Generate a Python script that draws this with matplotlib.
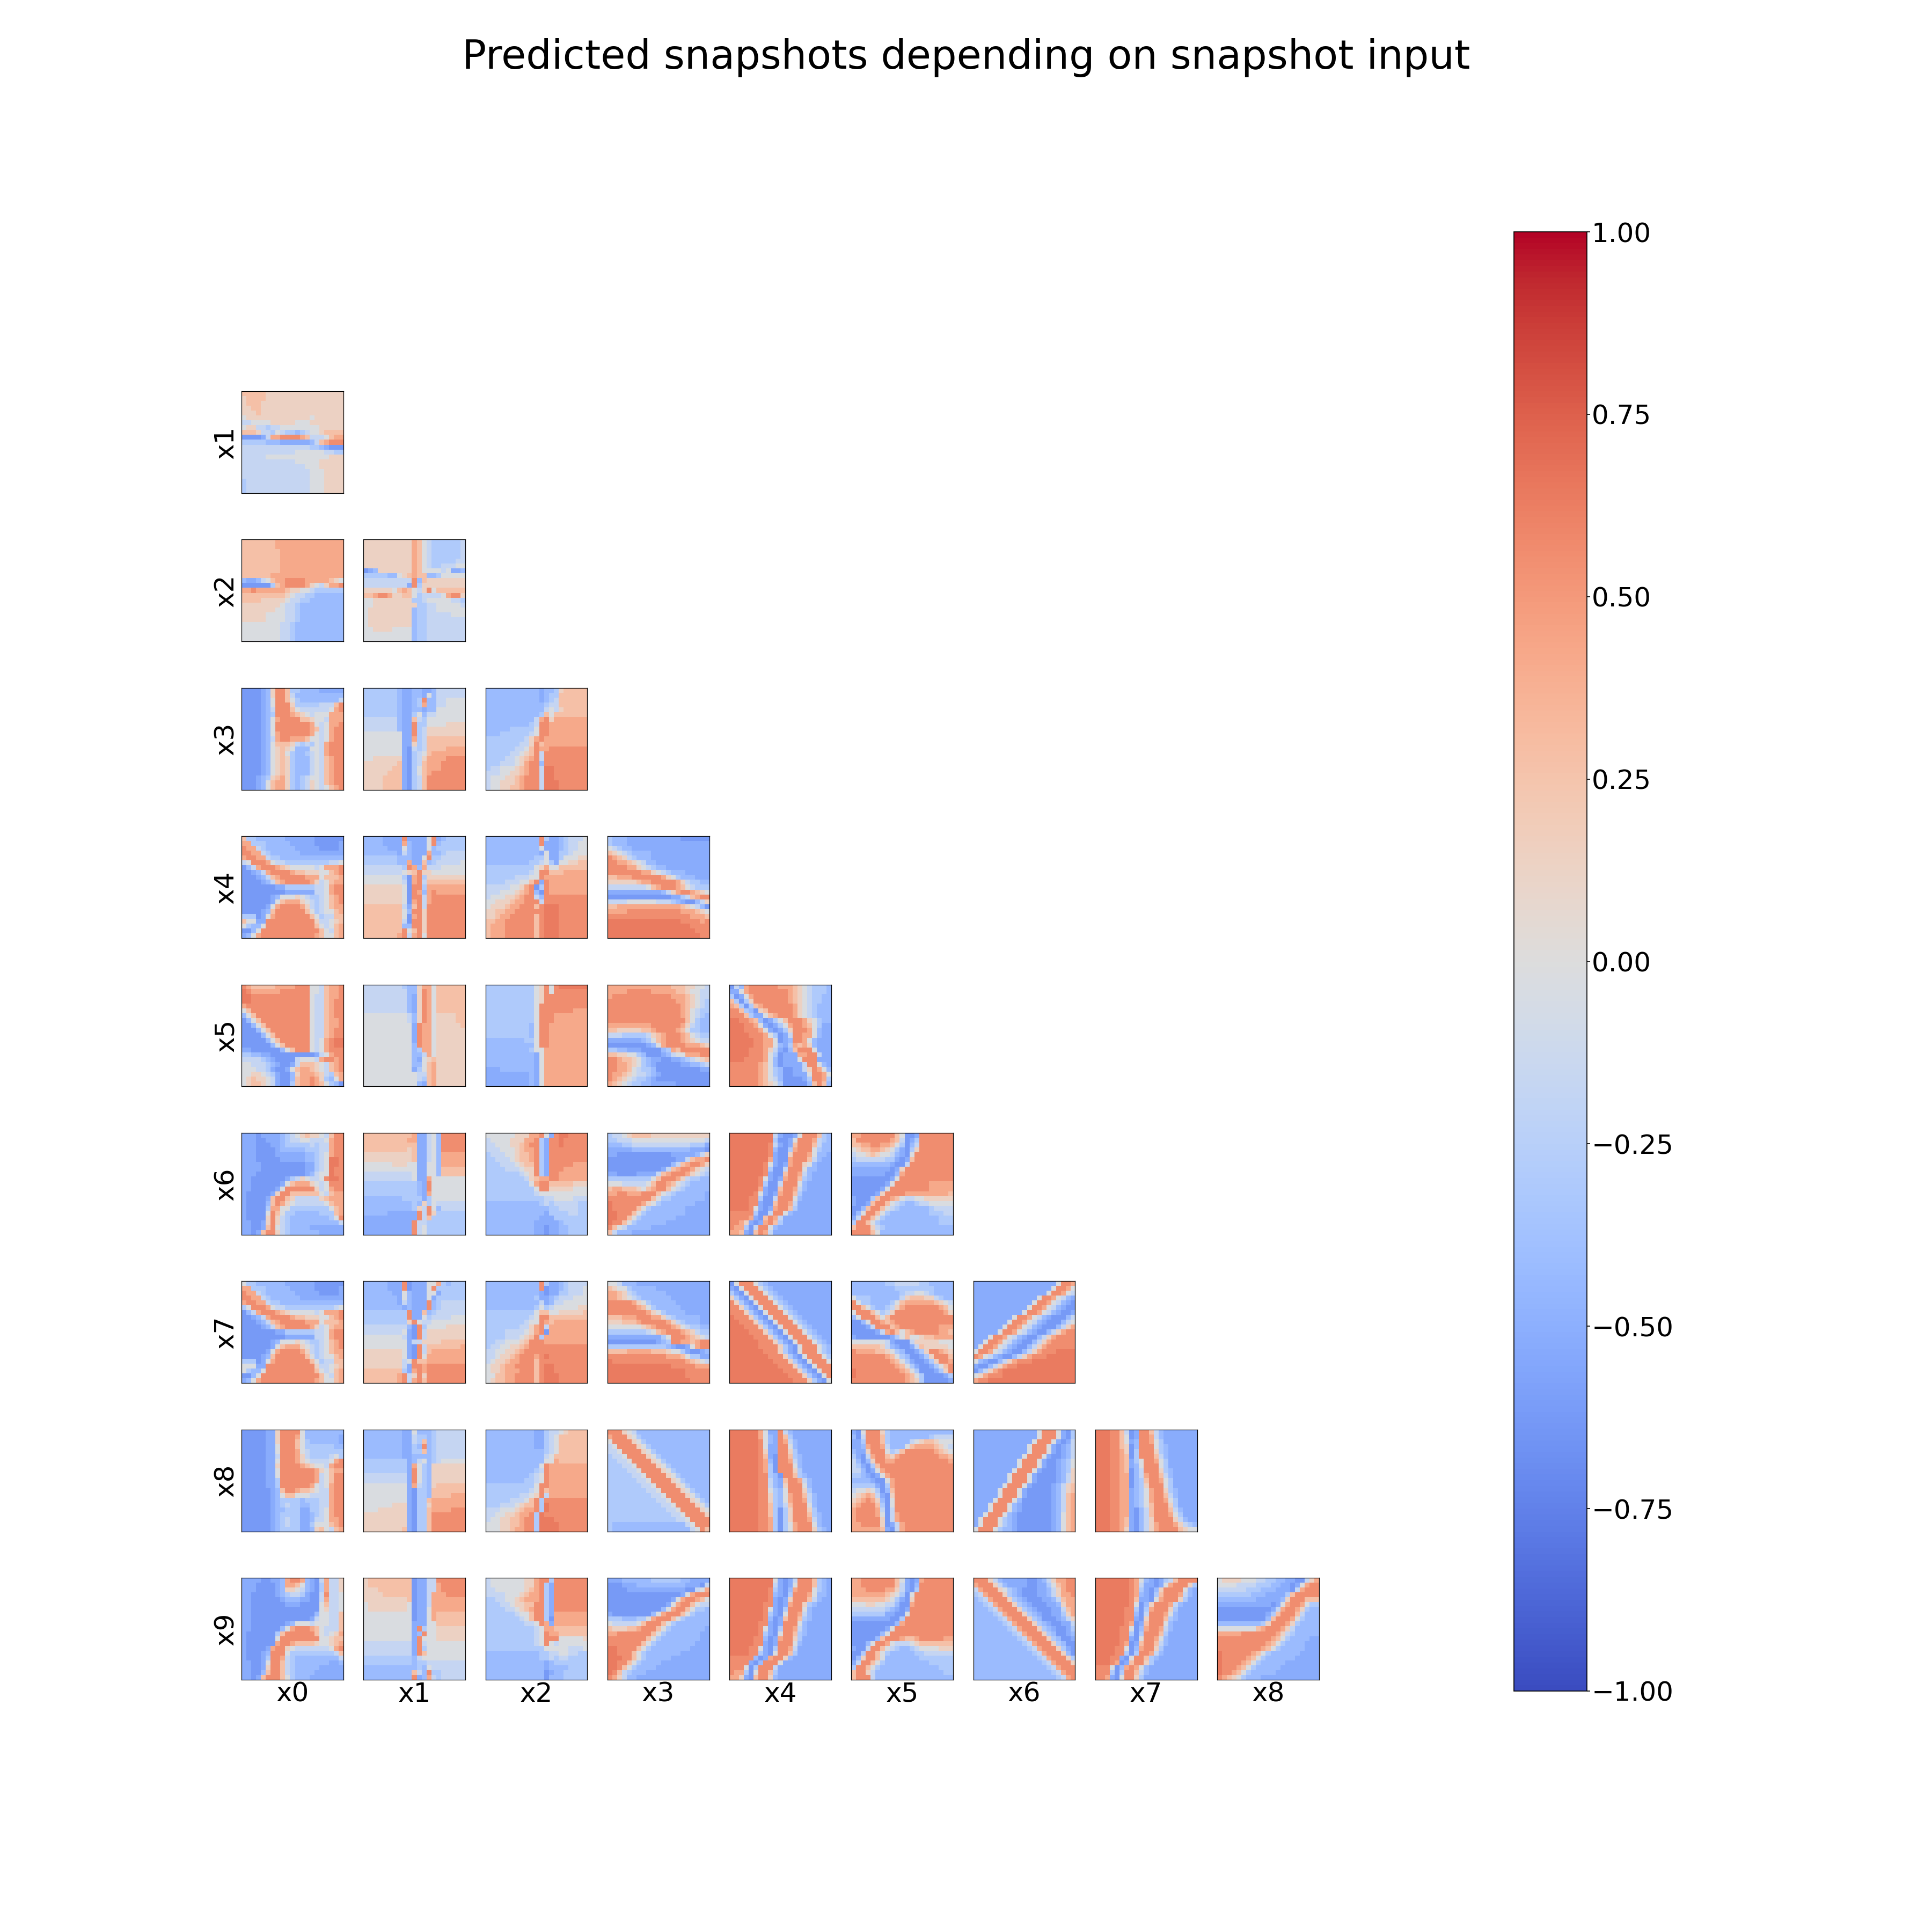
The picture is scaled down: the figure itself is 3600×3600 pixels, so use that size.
import numpy as np
import matplotlib
matplotlib.use('Agg')
import matplotlib.pyplot as plt
from matplotlib.cm import ScalarMappable
from matplotlib.colors import Normalize

# one character per cell, see LEVELS
LEVELS = {'0': -0.62, '1': -0.52, '2': -0.42, '3': -0.30, '4': -0.17, '5': -0.03,
          '6': 0.14, '7': 0.28, '8': 0.42, '9': 0.56, 'a': 0.64}
NAMES = ['x0', 'x1', 'x2', 'x3', 'x4', 'x5', 'x6', 'x7', 'x8', 'x9']
CBAR_TICKS = [-1.0, -0.75, -0.5, -0.25, 0.0, 0.25, 0.5, 0.75, 1.0]

P_1_0 = ["777776666666666666666", "677776666666666666666", "677766666666666666666", "667766666666666666666",
         "666766666666666666666", "566666666666665666666", "445555666665556666666", "566443445555555566666",
         "777644354332345567777", "000014889999874445788", "333332221111112478999", "444444444444443321000",
         "444444444445555554433", "444445555555555555666", "444444444445555566666", "444444444444455566666",
         "444444444444445556666", "444444444444445556666", "344444444444445556666", "344444444444445556666",
         "344444444444445556666"]
P_2_0 = ["777777788888888888888", "777777788888888888888", "777777778888888888888", "777777778888888888888",
         "777777778888888888888", "777777778888888888888", "777777778888888888888", "777777888888888888888",
         "211245788999988888765", "000000378999986546889", "889888888766554333333", "777777777654433222222",
         "777766666544332222222", "666666665443222222222", "666666655443222222222", "666665555443222222222",
         "666665555443222222222", "555555554432222222222", "555555554432222222222", "555555554432222222222",
         "555555554432222222222"]
P_2_1 = ["666666666687543333334", "666666666687543333334", "666666666687543333334", "666666666687543333334",
         "666666666687543333344", "666666666687543344455", "012666666687555545112", "333332256787722355555",
         "444444444492766666666", "444444444193666666666", "666666578754695777777", "778998667753444458996",
         "556666666633455555443", "556666666663344555554", "566666666623344555555", "566666666623344444555",
         "566666666623344444444", "566666666623344444444", "556666555523344444444", "555555555523344444444",
         "555555555523344444444"]
P_3_0 = ["000012699733222211111", "000012699742222222222", "000012599753222222224", "000012599963333344479",
         "000012499975444444589", "000012399987654555888", "000012589999776554888", "000012599999998545889",
         "000012599999998745899", "000012589999998545899", "000012489988875545899", "000012577764343548999",
         "000012567652225548999", "000012567532234548999", "000012567632224547899", "000012567632224547899",
         "000012567632224547899", "000012567632224547899", "000123678632345547899", "000125788632346547899",
         "000125788632346545789"]
P_3_1 = ["333333321122112444444", "333333321122152444444", "333333321123922445555", "333333321123822445555",
         "333333321122122555555", "333333321135244555555", "444444421174355555555", "444444421193355556666",
         "444444421193466666666", "555555551193466666666", "555555551183477777777", "555555551163477777777",
         "555555551043477778888", "555555551034578888888", "556666661034688889999", "666666671034788899999",
         "666666771035788899999", "666667771035789999999", "666677771034799999999", "666677771034799999999",
         "666677771034799999999"]
P_3_2 = ["222222222221223677777", "222222222221233777777", "222222222221234777777", "222222222222344777777",
         "222222222222454677777", "222222222223757777777", "222222222248968888888", "222222222349988888888",
         "222223333359988888888", "222333333459988888888", "333333334689888888888", "333333344697888888888",
         "333333445798899999999", "333334456794999999999", "333344567894999999999", "333444568992999999999",
         "344555678994aa9999999", "444556678994aa9999999", "455566789994aa9999999", "455666789994aaa999999",
         "455667789994aaa999999"]
P_4_0 = ["733222222111111000000", "883332222211111000001", "988432222221111100001", "998843222222111111111",
         "899884332222222222222", "459998544333333333445", "024899987655555458889", "001248999987766655789",
         "000124789999988857778", "000012478999998645788", "000000011333333445899", "000000000111111445899",
         "000000125556543345789", "000000157888654345789", "000001589999864345788", "000012799999975345578",
         "333015899999997534477", "755119999999999644567", "532259999999999754578", "002599999999999975478",
         "125899999999999875578"]
P_4_1 = ["222211119111159123333", "222211118211159233333", "222221115211152333333", "222222214211182234444",
         "333333322211593344444", "333333322811723444445", "444444443982844455555", "444444445679665555555",
         "555555553089366666666", "555555554089477777777", "666666665099388888888", "666666665098289888888",
         "666666665099489999999", "666666665089489999999", "777777774179499999999", "777777775299699999999",
         "777777775089699999999", "777777774099699999999", "777777772299699999999", "777777779579699999999",
         "777777789489599999999"]
P_4_2 = ["222222222229311234445", "222222222229111234455", "222222222225111234455", "222222222221511334555",
         "222222222233511355566", "222222222334531556677", "333333333356855777777", "333333333459977788888",
         "333333444559888888888", "333344455791988888888", "444445568903988888888", "444555678920988888888",
         "455566789942999999999", "556667889994999999999", "566678899979aaa999999", "667788999999aaa999999",
         "667889999979aaa999999", "778899999979aaa999999", "788899999979aaa999999", "788899999979aaa999999",
         "788899999979aaa999999"]
P_4_3 = ["322211111111111000000", "322211111111111111111", "543221111111111111111", "765432222111111111111",
         "987643222111111111111", "998876542211111111111", "999988654322111111111", "999999988654322211111",
         "778889999998653222111", "666666788999998643322", "444444445789998754333", "111111111112468998765",
         "000000000000011347899", "444455555544432100246", "778888888888888765420", "888899999999999888765",
         "999999999999999998887", "aaaaaaaaaaaaaaa999989", "aaaaaaaaaaaaaaaaa9999", "aaaaaaaaaaaaaaaaaa999",
         "aaaaaaaaaaaaaaaaaaa99"]
P_5_0 = ["987777788889995547889", "a98888889999995547889", "aa9999999999995447889", "aa9999999999995447899",
         "899999999999995447899", "579999999999995447899", "257999999999995447899", "025799999999995447889",
         "002579999999995447889", "000257999999995447899", "000025799999995447899", "000002579999995458 9a",
         "000000257999995458 9a", "110000002579995458999", "332211000000000145899", "444432100004555489989",
         "554443210014777654789", "555443100157887654789", "556654310026888764378", "567665410027889863258",
         "567765410037889875320"]
P_5_1 = ["444444443226885777777", "444444444226985777777", "444444444216985777777", "444444444216985777777",
         "444444444216985777777", "444444444216985777777", "555555555426985666677", "555555555426985666677",
         "555555555519885666667", "555555555519885666666", "555555555519885666666", "555555555519885666666",
         "555555555529885666666", "555555555523885666666", "555555555522485666666", "555555555521567666666",
         "555555555522578666666", "555555555513578666666", "555555555554478666666", "555555555554378666666",
         "555555555552178666666"]
P_5_2 = ["333333333356959aaaaaa", "333333333356959999999", "333333333356999999999", "333333333356999999999",
         "333333333359999999999", "333333333359999999888", "333333333359998888888", "333333333359998888888",
         "333333333259988888888", "333333333259988888888", "333333333259988888888", "222222223359988888888",
         "222222222259988888888", "222222222355888888888", "222222222215888888888", "222222222215888888888",
         "222222222215888888888", "111222222215888888888", "111111111215888888888", "111111111215888888888",
         "111111111215888888888"]
P_5_3 = ["888888888888877766554", "888899999888887765544", "899999999999988876544", "999999999999998876543",
         "999999999999999876543", "999999999999999875433", "999999999999999875432", "999999999999999975322",
         "888888888999999864322", "776666677899998753322", "444333334678999875433", "111111123578999876544",
         "000000001258999988876", "332211100002387999999", "776655320001245588899", "998776532110011234567",
         "998876532100000112234", "998875433200000000011", "988765443210000000000", "987654332100000000000",
         "876543322111110000000"]
P_5_4 = ["042899999988876543332", "115899999999876543332", "301589999999876543322", "730369999999876543322",
         "873037899999986543222", "997320679999986543222", "999731157899986543222", "aa9987201357999865322",
         "aaa998510135899875311", "aaa999851013699985211", "aaaa99985301499885211", "aaaaa99885012998 5211",
         "aaaaa99885213878 6211", "aaaa99986410279995111", "aaaa99985301118899411", "aaa999985201115999111",
         "9999998752011114995 21", "999999875320011469 8521", "99999987532001115998 521", "99999987542000013998 31",
         "9999998765300000 2797 21"]
P_6_0 = ["111011112345676654799", "111001112344554445899", "111000112333334344899", "111000012222233344899",
         "111000011111122345899", "111000001111122345aa9", "111100000000011345aa9", "111100000000011345a99",
         "111000000000012455a99", "110000000134654459aa9", "110000001578886545999", "110000015999999645899",
         "100000169977777754788", "100001799764444467888", "100002798654444445788", "100003885533333333578",
         "100005975332222233378", "100006964322222222359", "110016964322222222224", "110017954322221111111",
         "110179964322222211111"]
P_6_1 = ["777777777781145299999", "777777777881145299999", "777777777771145299999", "777777777671145299999",
         "666666666671145288888", "666666666671145288888", "555555666551155288888", "555555555551155277777",
         "444444444451155277777", "444444444451185555555", "333333333332195555555", "333333333332195555555",
         "333333333332185555555", "222222223333135555555", "222222222232 63 5 4 4 4 4", "222222222236495244444",
         "222221111119 4 96 3 3 3 3 3", "111111111119 4 73 3 3 3 3 3", "11111111119 4 4 3 3 3 3 3 3 3 3",
         "11111111119 4 5 3 3 3 3 3 3 3 3", "11111111119 4 5 3 3 3 3 3 3 3 3"]
P_6_2 = ["555555666889 5 1 9 a a 9 9 9 9 9", "455556668893199a99999", "445556678993199a99999", "444555678893199999999",
         "344455677893199999999", "334445677893199999999", "333444567793199999888", "333344456693199988888",
         "333333345693199888888", "333333334678899888888", "333333333589977777666", "333333333359966666555",
         "333333333345555555555", "333333333333445555444", "222222222223434444433", "222222222222233444433",
         "222222222222133334433", "222222222221113333333", "222222222211111233333", "222222222211011223333",
         "222222222211011223333"]
P_6_3 = ["344567777666666666666", "334445555555555555554", "222334444444444443331", "111112222222222221110",
         "110000000000011111246", "000000000000001147889", "000000000000024789986", "000000000001478998654",
         "110000111147899986543", "333333333579998643322", "555444445799875432222", "788777657899754322222",
         "88998889997543 2222221", "99999999975332222222 1", "a99999986532222222111", "a9999975322222221111 1",
         "aa9997532222222211111", "aa9975322222221111111", "a99753222222111111111", "975422222111111111111",
         "742221111111111111111"]
P_6_4 = ["aaaaaaaaa410015999732", "aaaaaaaaa300159998432", "aaaaaaaa9410179997422", "aaaaaaaa9200389995322",
         "aaaaaaaa9100699985221", "aaaaaaaa8100899974211", "aaaaaaa9510189965211", "aaaaaaa9300499952211",
         "aaaaaaa9100799842111", "aaaaaa9510189973211 1", "aaaaaa9300499952111 1", "aaaaaa8100799842111 1",
         "aaaaa9510189973111111", "aaaa99300499952111111", "aaaa99100799841111111", "aaaa95101899 7 3 1 1 1 1 1 1",
         "9999930 0 4 9 9 5 2 1 1 1 1 1 1 1", "9999 8 1 0 7 9 8 4 1 1 1 1 1 1 1 1", "9 9 8 6 1 0 1 8 9 7 3 1 1 1 1 1 1 1 1 1",
         "9 8 8 3 0 4 9 9 5 2 1 1 1 1 1 1 1 1 1 1 1", "8 8 7 1 0 7 9 8 4 1 1 1 1 1 1 1 1 1 1 1 1"]
P_6_5 = ["889999999750019999999", "799999998740139999999", "778899887530249999999", "567788765310369999999",
         "455676554210599999999", "344444433101799999999", "222222221004999999999", "111111110 1 6 9 9 9 9 9 9 9 9",
         "111111100 2 8 9 9 9 9 9 9 9 9 9", "000000001599999999999", "000000015999999988888", "000000159999999988888",
         "000001699998888888887", "100037998754455666666", "100179975432234455555", "002799754322222234444",
         "025997532222222233344", "149975322222222222333", "399753222222222222333", "799964322222222222222",
         "999975222222222222222"]
P_7_0 = ["533222222111111000000", "883332222211111000001", "988432222221111100001", "998843222222111111111",
         "899884332222222222222", "359998544333333333345", "024899987655555458889", "001248999987766655789",
         "000124789999988857778", "000012478999998645788", "000000011333333445899", "000000000111111445899",
         "000000125556543345789", "000000157888654345789", "000001589999864345788", "000012799999975345578",
         "333015899999997534477", "555119999999999644567", "532259999999999754578", "002599999999999975478",
         "125899999999999875578"]
P_7_1 = ["222221119011155832333", "222221119011159333333", "222222115211155133333", "222222215211151333333",
         "222222214211192344444", "222222221211192344444", "333333333911723444444", "333333333911 5 3 4 4 4 4 5 5",
         "333333333695445555555", "444444444209355556666", "444444445109466666666", "555555554109466666666",
         "555555555144666677777", "555555555109477777778", "666666665109478888888", "666666665109588888888",
         "666666664597788888888", "666666664199899999999", "777777773189899999999", "777777789469699999999",
         "777777789489799999999"]
P_7_2 = ["222222222229311234444", "222222222229011234445", "222222222221011334445", "222222222231123444555",
         "222222222224124455555", "222222222235345555566", "333333333357755666667", "333333333459977777777",
         "333333334559878888888", "333333344689488888888", "333344445689088888888", "333344456793888888888",
         "334455567999888888888", "344556678999999999999", "445566789999999999999", "445667899989a99999999",
         "456678899979999999999", "566788999979aa9999999", "566788899979aa9999999", "557788999979aaa999999",
         "567788999979aaa999999"]
P_7_3 = ["554222111111111111111", "765532222211111111111", "887643222222111111111", "887654322222211111111",
         "999998653222221111111", "999999875322222111111", "999999998653222211111", "777888999886432222211",
         "666777899999864322211", "555555567899987543322", "333333334578999876433", "111111111113599987654",
         "000000000012399887899", "333333333333210 01589", "777788888777655310012", "999999999999888753 31",
         "a9999999999999998765 4", "aaaaaaaaaaaaa99999888", "aaaaaaaaaaaaaaaa99999", "aaaaaaaaaaaaaaaa99999",
         "aaaaaaaaaaaaaaaaa9999"]
P_7_4 = ["059995321111111111111", "105999532111111111111", "310599953211111111111", "631059995321111111111",
         "963105999532111111111", "996310599953211111111", "999631059995321111111", "a99963105999532111111",
         "aa9996310599953211111", "aaa999631059995321111", "aaaa99963105999532111", "aaaaa9996310599953211",
         "aaaaaa999631059995321", "aaaaaa999963105999532", "aaaaaaa9996310599953 2", "aaaaaaaa999631059995 3",
         "aaaaaaaaa999631059995", "aaaaaaaaaa99963105999", "aaaaaaaaaaa999631059 9", "aaaaaaaaaaaa9996310599",
         "aaaaaaaaaaaaa99963105"]
P_7_5 = ["222222233444443322222", "222222222333333332222", "222222222234455432222", "533322222246777664322",
         "953322223578888887654", "997532234689999999875", "599975346999999999986", "2599975799999999999 9",
         "0025 9 9 8 7 8 9 9 9 9 9 9 9 9 9 9", "0001 4 9 9 9 7 8 9 9 9 9 9 9 9 9 8 8", "00000 1 4 8 9 7 5 7 8 9 9 9 9 9 8 8 7 7",
         "100000001357 5 5 6 7 7 8 8 8 8 7", "555555541000 4 6 6 6 6 6 5 5 5 5 5", "777777642100147666665 5 4",
         "988887765320013699876", "999999987532001369997", "999999998753100 1 3 6 9 9 8", "9999999998 7 5 3 1 0 0 1 3 5 7 9",
         "a9999999998 7 5 3 0 0 0 1 3 6 9", "a9999999999 8 7 5 3 0 0 0 0 1 3", "9 9 9 9 9 9 9 9 9 9 9 8 7 6 3 0 0 0 0 0 1"]
P_7_6 = ["111111111111111115998", "111111111111111159985", "111111111111111599854", "111111111111159985421",
         "111111111111599854210", "111111111115998542100", "111111111159985421001", "111111115998542100024",
         "111111159985421000245", "111111599854210002468", "111115998542100246899", "111599854210024689999",
         "115998542100246899999", "159985421002468999999", "59985421002468999aaaa", "985421002468999aaaaaa",
         "521002468999aaaaaaaaa", "100246899aaaaaaaaaaaa", "024689aaaaaaaaaaaaaaa", "568999aaaaaaaaaaaaaaa",
         "899aaaaaaaaaaaaaaaaaa"]
P_8_0 = ["000001169999522222222", "000001169998522222221", "000001169997532222221", "000001159997533333322",
         "000001159998543333333", "000001149998643333453", "000001159998654444589", "000001169999876554899",
         "000001159999999865788", "000001159999999845799", "000001139999999845799", "000001139999998545899",
         "000000127998776544899", "000000125775554444899", "000000123333233344899", "000000123433223344899",
         "000000122333113345899", "000000123333112345899", "000000123433112445889", "000000123433113555789",
         "000000123333112675478"]
P_8_1 = ["222222221152223444444", "222222221143323444444", "222222221143723444444", "222222221132923444444",
         "222222221133723444444", "222222221122223444444", "333333333124523455555", "333333333185326666666",
         "333333333195326666666", "444444444195326666666", "444444444195326666666", "555555555184326777777",
         "555555555103327777777", "555555555103327777888", "555555555103378888888", "555555666103368888888",
         "555666666103378888999", "666666666103379999999", "666666666103379999999", "666666666103379999999",
         "666666667103379999999"]
P_8_2 = ["222222222211344567777", "222222222211345777777", "222222222211345777777", "222222222211345777777",
         "222222222222345777777", "222222222222457777777", "222222222222558777777", "222222222225988888888",
         "222222222234988888888", "222222222345988888888", "222222223345988888888", "333333333359988888888",
         "333333333459788888888", "333333344569 4 8 8 8 8 8 8 8", "333334445793 9 9 9 9 9 9 9 9", "333444567793a99999999",
         "444555678893a99999999", "4455667 8 8 9 3 a 9 9 9 9 9 9 9 9", "455667789 9 3 a a a 9 9 9 9 9 9 9", "555667789 9 3 a a a a 9 9 9 9",
         "555667889 9 3 a a a a 9 9 9 9"]
P_8_3 = ["999654222222222222222", "899965322222222222222", "599996532222222222222", "459999653222222222222",
         "445999965322222222222", "344599996532222222222", "334459999653222222222", "333445999965322222222",
         "333344599996532222222", "333334459999653222222", "333333445999965322222", "333333344599996532222",
         "333333334459999653222", "333333333445999965322", "333333333344599996532", "333333333334459999653",
         "333333333333445999965", "333333333333344599996", "333333333333334459999", "322222222222222245999",
         "322222222222222224597"]
P_8_4 = ["aaaaaa85119 4 2 1 1 1 1 1 1 1 1", "aaaaaa85219 7 3 1 1 1 1 1 1 1 1", "aaaaaa95219 8 4 2 1 1 1 1 1 1 1", "aaaaaa95119 9 5 2 1 1 1 1 1 1 1",
         "aaaaaa96119 9 6 3 1 1 1 1 1 1 1", "aaaaaa97109 9 7 3 2 1 1 1 1 1 1", "aaaaaa98209 9 8 4 2 1 1 1 1 1 1", "aaaaaa98309 9 9 5 2 1 1 1 1 1 1",
         "aaaaaa98309 9 9 6 3 1 1 1 1 1 1", "aaaaaa99320 9 9 7 3 2 1 1 1 1 1", "aaaaaa99421 7 9 9 8 4 2 1 1 1 1", "aaaaaa99421 6 9 9 9 5 2 1 1 1 1",
         "aaaaaa99532 5 9 9 9 6 3 1 1 1 1", "aaaaaa99632 5 8 9 9 7 4 2 1 1 1", "aaaaaa99632 5 8 9 9 8 4 2 1 1 1", "aaaaaa99732 4 7 9 9 9 5 2 1 1 1",
         "aaaaaa99730 3 6 9 9 9 6 3 1 1 1", "aaaaaa99730 3 6 9 9 9 7 3 2 1 1", "aaaaaa99830 3 6 9 9 9 8 4 2 1 1", "aaaaaa99830 3 5 8 9 9 9 5 2 1 1",
         "aaaaaa99830 3 5 8 9 9 9 6 3 2 1"]
P_8_5 = ["105999 6 3 2 2 2 2 2 2 2 2 2 2 2 2", "204999 7 3 2 2 2 2 2 2 2 2 3 4 4 4", "1 1 3 9 9 9 7 3 2 2 2 2 4 5 6 7 7 6 5", "1 1 2 8 9 9 8 4 2 2 2 5 7 8 8 8 8 7 6 5 4",
         "2 1 1 6 9 9 9 5 3 4 7 9 9 9 9 9 9 8 7 6 5", "3 1 0 4 8 9 9 7 6 8 9 9 9 9 9 9 9 9 8 8 7", "4 2 0 2 6 9 9 8 8 9 9 9 9 9 9 9 9 9 9 9 8", "4 3 1 0 3 7 9 9 9 9 9 9 9 9 9 9 9 9 9 9 9",
         "4 4 2 0 1 5 8 9 9 9 9 9 9 9 9 9 9 9 9 9 9", "3 3 2 1 0 1 5 8 9 9 9 9 9 9 9 9 9 9 9 9 9", "2 2 2 2 1 0 0 5 8 9 9 9 9 9 9 9 9 9 9 9 9", "3 3 3 3 3 1 0 3 8 9 9 9 9 9 9 9 9 9 9 9 9",
         "4 5 5 6 5 3 0 2 7 9 9 9 9 9 9 9 9 9 9 9 9", "5 6 7 8 7 4 1 0 6 9 9 9 9 9 9 9 9 9 9 9 9", "6 7 8 9 8 6 2 0 5 9 9 9 9 9 9 9 9 9 9 9 9", "7 8 9 9 9 7 3 0 5 9 9 9 9 9 9 9 9 9 9 9 9",
         "8 9 9 9 9 8 4 0 4 9 9 9 9 9 9 9 9 9 9 9 9", "8 9 9 9 9 8 5 0 4 8 9 9 9 9 9 9 9 9 9 9 9", "8 9 9 9 9 9 6 0 4 8 9 9 9 9 9 9 9 9 9 9 9", "8 8 9 9 9 9 6 0 1 4 8 9 9 9 9 9 9 9 9 9 9",
         "8 8 8 8 8 8 7 1 0 4 8 9 9 9 9 9 9 9 9 9 9"]
P_8_6 = ["111111111111159995103", "111111111111159995103", "111111111111599951014", "111111111115999510124",
         "111111111115999510124", "111111111159995100124", "111111111599951001235", "111111111599951001235",
         "111111115999510001236", "111111159995100001246", "111111159995100001246", "111111599951000012467",
         "111115999510000012467", "111115999510000012478", "111159995200000012478", "111599952100000012478",
         "111599952100000012478", "115999521000000012578", "159995321000000012578", "159995321000000012578",
         "599953221000000012578"]
P_8_7 = ["aaa9974019 9 7 4 2 1 1 1 1 1 1 1", "aaa9975019 9 8 4 2 1 1 1 1 1 1 1", "aaa9975129 9 8 5 3 1 1 1 1 1 1 1", "aaa9976029 9 9 5 3 2 1 1 1 1 1 1",
         "aaa9986039 9 9 6 3 2 1 1 1 1 1 1", "aaa9987039 9 9 7 4 2 1 1 1 1 1 1", "aaa9987135 9 9 8 5 3 1 1 1 1 1 1", "aaa9987125 9 9 9 5 3 1 1 1 1 1 1",
         "aaa9987024 9 9 9 6 3 2 1 1 1 1 1", "aaa9988024 8 9 9 7 4 2 1 1 1 1 1", "aaa9988023 7 9 9 8 5 3 1 1 1 1 1", "aaa9988023 6 9 9 9 5 3 1 1 1 1 1",
         "aaa9988123 5 8 9 9 6 3 2 1 1 1 1", "aaa9988123 5 8 9 9 7 4 2 1 1 1 1", "aaa9988123 5 8 9 9 8 5 3 1 1 1 1", "aaa9988123 5 7 9 9 9 6 3 1 1 1 1",
         "aaa9988102 4 7 9 9 9 7 4 2 1 1 1", "aaa9988102 4 7 9 9 9 8 5 3 1 1 1", "aaa9987102 4 6 9 9 9 9 6 4 2 1 1", "aaa9987102 4 6 8 9 9 9 8 6 4 3 2",
         "aaa9986102 4 6 8 9 9 9 9 7 6 5 5"]
P_9_0 = ["111100112899 8 2 1 0 4 8 4 4 6 7 8", "111000012887 5 2 1 0 3 8 4 4 6 8 9", "111000012665 4 2 1 0 3 8 4 4 6 8 9", "110000012344 3 1 0 0 4 9 4 4 5 8 9",
         "110000001222 1 1 0 0 4 8 4 4 5 8 9", "110000000111 0 0 0 0 5 7 4 4 5 8 a", "110000000000 0 0 0 0 5 6 4 4 5 8 a", "110000000000 0 0 0 2 5 5 4 4 7 8 a",
         "110000000000 0 0 1 4 5 5 4 4 7 9 a", "110000000125 5 5 4 5 5 5 4 4 7 9 a", "110000002589 9 9 8 7 5 4 4 4 7 9 a", "100000037999 9 9 9 7 5 4 5 6 8 8 8",
         "100000059999 9 9 9 9 5 5 6 7 7 7 7", "100000089987 7 7 7 6 5 5 6 7 8 7 7", "100001899654 4 4 4 4 4 4 5 8 9 6 6", "100012999533 3 3 3 3 3 3 3 4 7 9 8",
         "100013998432 2 2 2 2 2 2 2 2 4 8 3", "110015997432 2 2 2 2 2 2 1 1 2 3 3", "110016997432 2 2 2 2 1 1 1 1 1 1 2", "110027997432 2 2 2 1 1 1 1 1 1 1 1",
         "110179997532 2 2 1 1 1 1 1 1 1 1 1"]
P_9_1 = ["677777777701144999999", "677777777701144899999", "666777777701144899999", "666677777701148889999",
         "666666666701148888888", "566666666501148888888", "566666666501158888888", "555555555501158777777",
         "555555555501158777777", "555555555511155777777", "555555555519355666666", "555555555512955666666",
         "555555555519555666666", "444444444419455555555", "444444444419355555555", "444444444419755555555",
         "333333333324555555555", "333333333323344444444", "222222222223254444444", "222222222274293344444",
         "222222222291284344444"]
P_9_2 = ["455555556689939999999", "455555556689319999999", "445555556789319999999", "444455567889319999999",
         "334455678889319999999", "333445667799319999999", "333344567899319999999", "333333455799318888888",
         "333333345799308888888", "333333334459818888888", "333333333345887777777", "333333333345988777777",
         "333333333345999555556", "333333333345954555555", "333333333333555554445", "222222222223344554433",
         "222222222223343443333", "222222222222123333333", "222222222222122223333", "222222222222012233333",
         "222222222222022233333"]
P_9_3 = ["111222222333333221111", "000111222222222211104", "000011111111111100458", "000000000000000158999",
         "000000000000015899875", "000000000000158997544", "000000000002589975332", "100000000258999753222",
         "333222335899975322222", "544444579997532222222", "766677899975322222221", "889999999753222222211",
         "999999997532222222211", "999999975322222222111", "aa9999753222222221111", "aa9997532222222111111",
         "aaa997532222211111111", "aa9975322221111111111", "aa9753222211111111111", "a97432221111111111111",
         "986422111111111111111"]
P_9_4 = ["aaaaaaaaa510149997321", "aaaaaaaaa410159997321", "aaaaaaaa9310289995321", "aaaaaaaa9210399985221",
         "aaaaaaaa9101699974211", "aaaaaaa9910189963211", "aaaaaaa9510399952111", "aaaaaaa9310599842111",
         "aaaaaaa9201799732111", "aaaaaa9910199952111 1", "aaaaaa9510399842111 1", "aaaaaa9310599732111 1",
         "aaaaa99201899631111 1", "aaaaa99101999521111 1", "aaaa9951039984111111", "aaaa9931059973111111 1",
         "9999 9 2 0 1 8 9 9 6 2 1 1 1 1 1 1 1 1", "9 9 9 9 1 0 2 9 9 9 5 1 1 1 1 1 1 1 1 1 1", "9 9 9 5 0 3 9 9 9 4 1 1 1 1 1 1 1 1 1 1 1",
         "9 8 8 3 0 5 9 9 7 3 1 1 1 1 1 1 1 1 1 1 1", "8 8 6 1 0 7 9 9 6 2 1 1 1 1 1 1 1 1 1 1 1"]
P_9_5 = ["889999999751018999999", "889999999741029999999", "888999988641039999999", "888888876530 5 9 9 9 9 9 9 9",
         "777777765310 6 9 9 9 9 9 9 9", "555665544200 8 9 9 9 9 9 9 9", "444444432101 9 9 9 9 9 9 9 9", "333333311005 9 9 9 9 9 9 9 9",
         "111111110039 9 9 9 9 9 9 9 9", "000000000289 9 9 9 9 9 9 9 9", "000000015999 9 9 9 9 9 9 9 9", "000000259999 9 9 9 9 9 9 9 9",
         "000002799987 7 8 9 9 9 9 9 8", "000259985444 5 6 7 7 7 7 7 7", "100499754322 3 4 5 5 5 5 6 6", "003997532222 2 3 3 4 4 4 4 4",
         "026997522222 2 2 3 3 3 3 3 3", "149975322222 2 2 2 2 3 3 3 3", "399753222222 2 2 2 2 2 2 3 3", "799642222222 2 2 2 2 2 2 2 3",
         "799942222222 2 2 2 2 2 2 2 2"]
P_9_6 = ["999642111110012468899", "899964211110011357899", "489996532100011246899", "348999632100011246889",
         "234899963210001124788", "223489996321000112688", "222348999632100011478", "222234899963210011368",
         "222223489996320001246", "222222348999632100114", "222222234899963210013", "222222223489996320012",
         "222222222348999632001", "222222222234899963200", "222222222223489996310", "222222222222348999620",
         "222222222222234899963", "222222222222223489996", "222222222222222348999", "222222222222222234899",
         "222222222222222223489"]
P_9_7 = ["aaaaaaa985210134799 9 9 5", "aaaaaaa984110158999632", "aaaaaaa983102 6 9 9 9 9 5 2 1", "aaaaaaa982103 7 9 9 9 8 4 2 1",
         "aaaaaaa971105 8 9 9 9 6 3 1 1", "aaaaaaa950 2 6 9 9 9 8 4 2 1 1", "aaaaaa9930 3 8 9 9 9 6 3 1 1 1", "aaaaaa9920 4 9 9 9 8 5 2 1 1 1",
         "aaaaaa9910 6 9 9 9 7 3 2 1 1 1", "aaaaaa9801 7 9 9 9 5 2 1 1 1 1", "aaaaa9950 2 8 9 9 8 4 2 1 1 1 1", "aaaaa9930 3 9 9 9 7 3 1 1 1 1 1",
         "aaaaa9910 5 9 9 8 5 2 1 1 1 1 1", "aaaaa9801 7 9 9 7 4 2 1 1 1 1 1", "aaaa9950 2 8 9 9 6 3 1 1 1 1 1 1", "aaaa9930 3 9 9 8 4 2 1 1 1 1 1 1",
         "aaa9910 5 9 9 7 3 2 1 1 1 1 1 1 1", "aaa9801 7 9 9 6 3 1 1 1 1 1 1 1 1", "9 9 9 5 0 2 8 9 8 5 2 1 1 1 1 1 1 1 1 1", "9 9 9 3 0 3 9 9 7 4 2 1 1 1 1 1 1 1 1 1",
         "9 9 8 1 0 5 9 9 6 3 1 1 1 1 1 1 1 1 1 1"]
P_9_8 = ["566665554433221100468", "555544443332211 0 1 5 8 9", "444444333222111 0 4 8 9 9", "333333322211 1 1 3 7 9 9 9", "222222221111 1 2 6 9 9 9 7",
         "111111111110 1 5 8 9 9 8 5 3", "000000000001 4 8 9 9 8 6 3 2", "000000000013 7 9 9 9 7 4 2 2", "000000000027 9 9 9 8 5 3 2 2",
         "222222222369 9 9 8 6 3 2 2 2", "555555557899 9 8 6 4 2 2 2 2", "888889999999 8 6 4 3 2 2 2 2", "999999999998 7 5 3 2 2 2 2 1",
         "999999999987 5 3 2 2 2 2 1 1", "999999999875 3 2 2 2 2 2 1 1", "a99999987532 2 2 2 2 2 1 1 1", "a99999875322 2 2 2 2 1 1 1 1",
         "a99998753222 2 2 1 1 1 1 1 1", "a99987532222 2 1 1 1 1 1 1 1", "a99875322222 1 1 1 1 1 1 1 1", "9 8 7 6 5 3 2 2 2 1 1 1 1 1 1 1 1 1 1 1 1"]

PANELS = {(1, 0): P_1_0,
          (2, 0): P_2_0, (2, 1): P_2_1,
          (3, 0): P_3_0, (3, 1): P_3_1, (3, 2): P_3_2,
          (4, 0): P_4_0, (4, 1): P_4_1, (4, 2): P_4_2, (4, 3): P_4_3,
          (5, 0): P_5_0, (5, 1): P_5_1, (5, 2): P_5_2, (5, 3): P_5_3, (5, 4): P_5_4,
          (6, 0): P_6_0, (6, 1): P_6_1, (6, 2): P_6_2, (6, 3): P_6_3, (6, 4): P_6_4, (6, 5): P_6_5,
          (7, 0): P_7_0, (7, 1): P_7_1, (7, 2): P_7_2, (7, 3): P_7_3, (7, 4): P_7_4, (7, 5): P_7_5, (7, 6): P_7_6,
          (8, 0): P_8_0, (8, 1): P_8_1, (8, 2): P_8_2, (8, 3): P_8_3, (8, 4): P_8_4, (8, 5): P_8_5, (8, 6): P_8_6, (8, 7): P_8_7,
          (9, 0): P_9_0, (9, 1): P_9_1, (9, 2): P_9_2, (9, 3): P_9_3, (9, 4): P_9_4, (9, 5): P_9_5, (9, 6): P_9_6, (9, 7): P_9_7, (9, 8): P_9_8}


def to_values(rows):
    """Turn the typed rows into a 21x21 array"""
    out = []
    for row in rows:
        row = row.replace(' ', '')
        row = row.ljust(21, row[-1])[:21]
        out.append([LEVELS[c] for c in row])
    return np.array(out)


fig, axes = plt.subplots(9, 9, figsize=(12, 12), dpi=300)
fig.subplots_adjust(left=450 / 3600, right=2458 / 3600, top=1 - 729 / 3600, bottom=1 - 3130 / 3600,
                    wspace=0.197, hspace=0.456)
norm = Normalize(-1, 1)

for i in range(9):
    for j in range(9):
        ax = axes[i, j]
        if (i + 1, j) not in PANELS:
            ax.axis('off')
            continue
        ax.imshow(to_values(PANELS[(i + 1, j)]), cmap='coolwarm', norm=norm, aspect='auto', interpolation='nearest')
        ax.set_xticks([])
        ax.set_yticks([])
        for spine in ax.spines.values():
            spine.set_linewidth(0.3)
        if j == 0:
            ax.set_ylabel(NAMES[i + 1], fontsize=12, labelpad=1.3)
        if i == 8:
            ax.set_xlabel(NAMES[j], fontsize=12, labelpad=0.7)

cax = fig.add_axes([2821 / 3600, 1 - 3151 / 3600, 136 / 3600, 2719 / 3600])
cbar = fig.colorbar(ScalarMappable(norm=norm, cmap='coolwarm'), cax=cax, ticks=CBAR_TICKS)
cbar.ax.tick_params(labelsize=12, length=1.5, width=0.4, pad=0.5)
cbar.outline.set_linewidth(0.4)

fig.text(0.5, 0.970, 'Predicted snapshots depending on snapshot input', fontsize=18, ha='center', va='center')
plt.savefig('out.png', dpi=300)
